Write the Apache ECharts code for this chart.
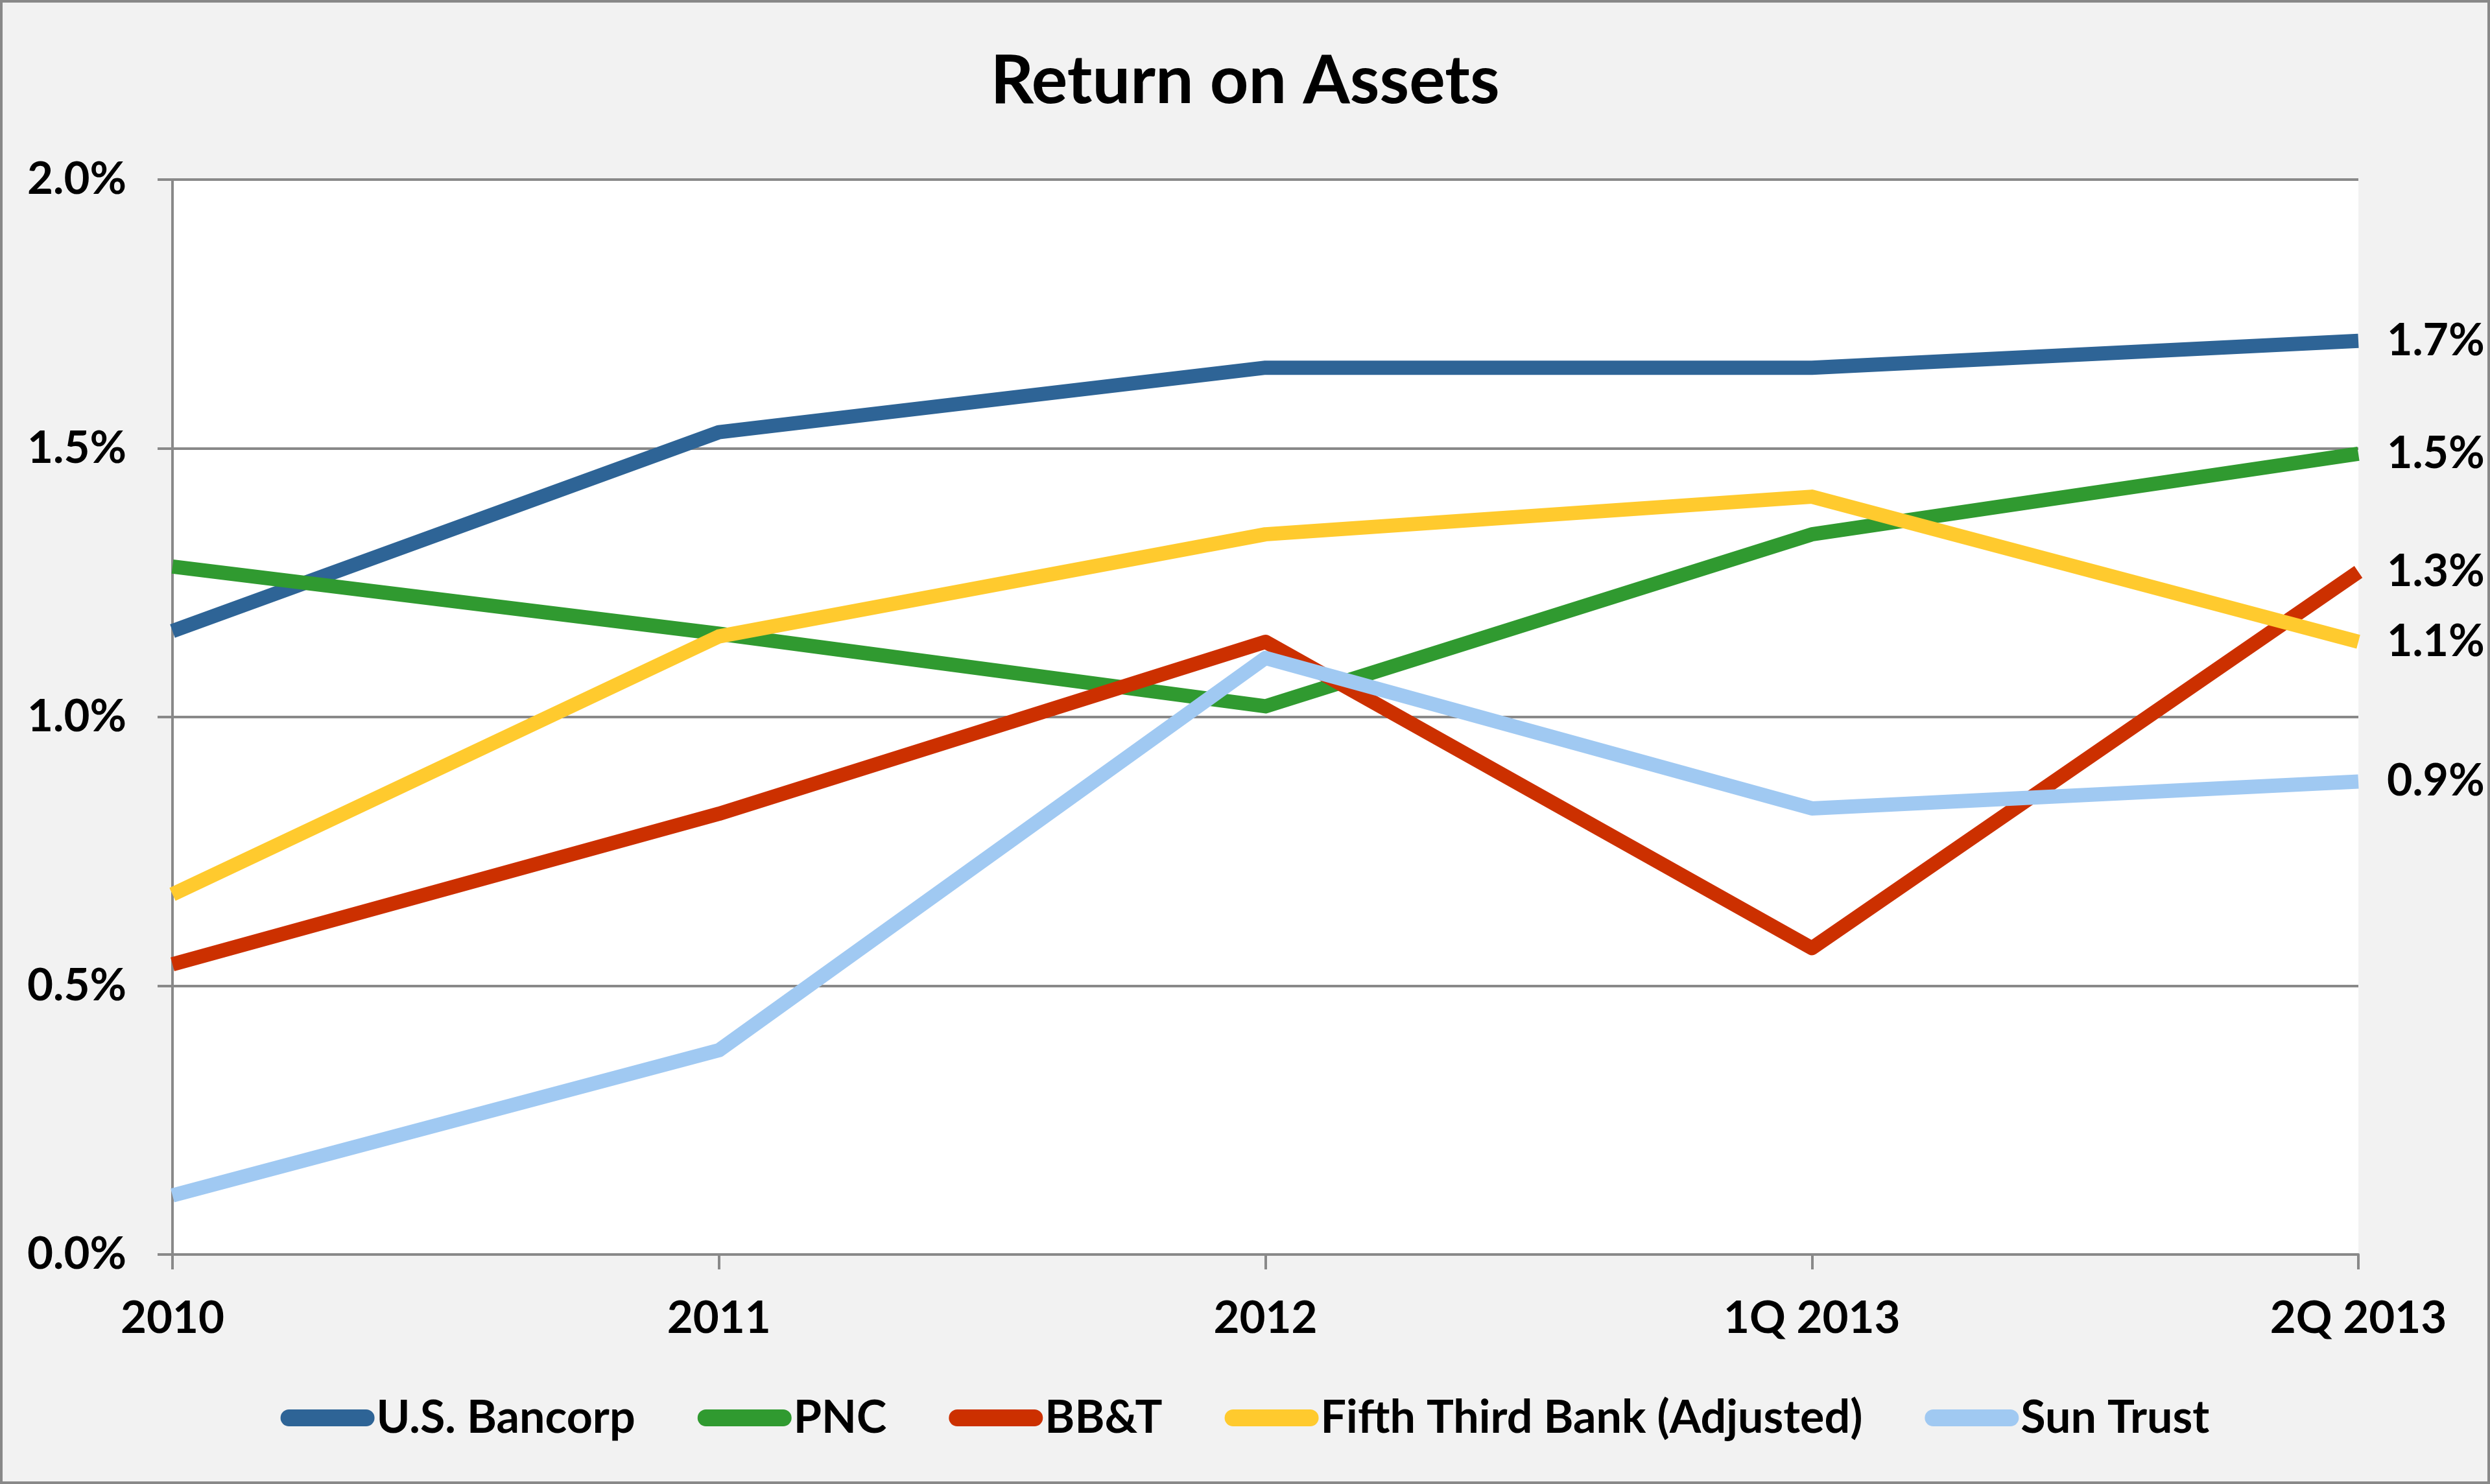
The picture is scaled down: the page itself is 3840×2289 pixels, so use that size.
<!DOCTYPE html>
<html>
<head>
<meta charset="utf-8">
<script src="https://cdn.jsdelivr.net/npm/echarts@6/dist/echarts.min.js"></script>
<style>
  html, body { margin: 0; padding: 0; background: #F2F2F2; }
  #chart { width: 3840px; height: 2289px; }
</style>
</head>
<body>
<div id="chart"></div>
<script>
// ---- data (percent) ----
const categories = ['2010', '2011', '2012', '1Q 2013', '2Q 2013'];
const usBancorp  = [1.16, 1.53, 1.65, 1.65, 1.70];
const pnc        = [1.28, 1.155, 1.02, 1.34, 1.49];
const bbt        = [0.54, 0.82, 1.14, 0.57, 1.27];
const fifthThird = [0.67, 1.15, 1.34, 1.41, 1.14];
const sunTrust   = [0.11, 0.38, 1.11, 0.83, 0.88];
const yTicks     = [0, 0.5, 1.0, 1.5, 2.0];
const seriesNames = ['U.S. Bancorp', 'PNC', 'BB&T', 'Fifth Third Bank (Adjusted)', 'Sun Trust'];

const colors = ['#2E6496', '#309A30', '#CC3000', '#FFCA2E', '#A0C9F2'];
const FONT = 'Lato, "Open Sans", sans-serif';
const GRAY = '#898989';

const chart = echarts.init(document.getElementById('chart'), null, { renderer: 'canvas' });

const allData = [usBancorp, pnc, bbt, fifthThird, sunTrust];
const series = allData.map((d, i) => ({
  name: seriesNames[i],
  type: 'line',
  data: d,
  symbol: 'none',
  smooth: false,
  lineStyle: { width: 22, color: colors[i], join: 'round', cap: 'butt' },
  itemStyle: { color: colors[i] },
  endLabel: {
    show: true,
    distance: 44,
    formatter: p => Number(p.value).toFixed(1) + '%',
    fontFamily: FONT, fontWeight: 'bold', fontSize: 68, color: '#000'
  },
  emphasis: { disabled: true },
  animation: false
}));

const pill = 'path://M13,0 L132,0 A13,13 0 0 1 132,26 L13,26 A13,13 0 0 1 13,0 Z';

chart.setOption({
  backgroundColor: '#F2F2F2',
  animation: false,
  title: {
    text: 'Return on Assets',
    left: 'center',
    top: 68,
    textStyle: { fontFamily: FONT, fontWeight: 'bold', fontSize: 104, color: '#000' }
  },
  graphic: [{
    type: 'rect',
    shape: { x: 2, y: 2, width: 3836, height: 2285 },
    style: { fill: null, stroke: GRAY, lineWidth: 4 },
    silent: true, z: 100
  }],
  grid: {
    left: 266, right: 203, top: 277, bottom: 354,
    show: true, backgroundColor: '#FFFFFF', borderWidth: 0,
    containLabel: false
  },
  legend: {
    data: seriesNames.map((n, i) => ({ name: n, icon: pill, itemStyle: { color: colors[i] } })),
    left: 'center',
    top: 2147,
    itemWidth: 145,
    itemHeight: 26,
    itemGap: 96,
    textStyle: { fontFamily: FONT, fontWeight: 'bold', fontSize: 70, color: '#000', padding: [0, 0, 0, -2] }
  },
  xAxis: {
    type: 'category',
    data: categories,
    boundaryGap: false,
    axisLine: { lineStyle: { color: GRAY, width: 4 } },
    axisTick: { show: true, length: 23, alignWithLabel: true, lineStyle: { color: GRAY, width: 4 } },
    axisLabel: { margin: 64, fontFamily: FONT, fontWeight: 'bold', fontSize: 69, color: '#000' },
    splitLine: { show: false }
  },
  yAxis: {
    type: 'value',
    min: yTicks[0],
    max: yTicks[yTicks.length - 1],
    interval: yTicks[1] - yTicks[0],
    axisLine: { show: true, lineStyle: { color: GRAY, width: 4 } },
    axisTick: { show: true, length: 23, lineStyle: { color: GRAY, width: 4 } },
    axisLabel: {
      margin: 71, fontFamily: FONT, fontWeight: 'bold', fontSize: 69, color: '#000',
      formatter: v => v.toFixed(1) + '%'
    },
    splitLine: { show: true, lineStyle: { color: GRAY, width: 4 } }
  },
  series: series
});
</script>
</body>
</html>
